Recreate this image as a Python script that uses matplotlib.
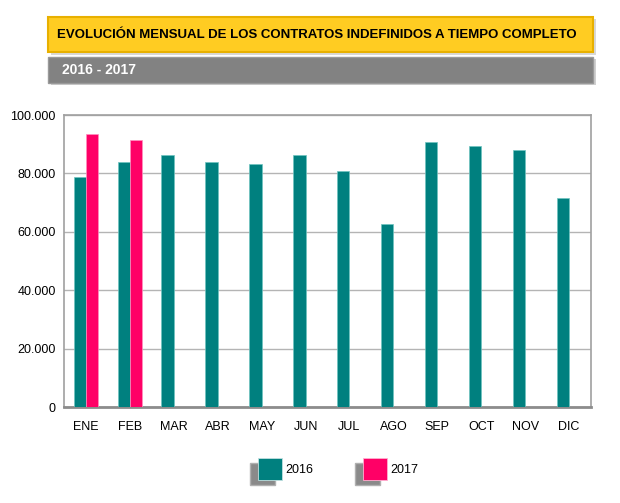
import matplotlib
matplotlib.use("Agg")
import matplotlib.pyplot as plt
import numpy as np
from matplotlib.patches import Rectangle

months = ["ENE", "FEB", "MAR", "ABR", "MAY", "JUN", "JUL", "AGO", "SEP", "OCT", "NOV", "DIC"]
v2016 = [78700, 83800, 86200, 84000, 83300, 86400, 80700, 62700, 90800, 89500, 88100, 71600]
v2017 = [93400, 91300]
yticks = [0, 20000, 40000, 60000, 80000, 100000]
ytick_labels = ["0", "20.000", "40.000", "60.000", "80.000", "100.000"]
title = "EVOLUCIÓN MENSUAL DE LOS CONTRATOS INDEFINIDOS A TIEMPO COMPLETO"
subtitle = "2016 - 2017"
series_names = ["2016", "2017"]

TEAL = "#00807F"
PINK = "#FF0066"

plt.rcParams['font.family'] = ['Liberation Sans', 'DejaVu Sans']

W, H = 620, 503
fig = plt.figure(figsize=(W / 100, H / 100), dpi=100)

def fx(x):
    return x / W

def fy(y):
    return 1 - y / H

ax = fig.add_axes([fx(64), fy(407.3), 527 / W, 292.3 / H])
x = np.arange(len(months))
bw = 0.28
ax.bar(x - bw / 2, v2016, width=bw, color=TEAL, edgecolor="#6fc4c0", linewidth=0.5, zorder=3)
ax.bar(x[:len(v2017)] + bw / 2, v2017, width=bw, color=PINK, edgecolor="#ff8fbf", linewidth=0.5, zorder=3)
ax.set_xlim(-0.5, len(months) - 0.5)
ax.set_ylim(0, 100000)
ax.set_yticks(yticks)
ax.set_yticklabels(ytick_labels, fontsize=9)
ax.set_xticks(x)
ax.set_xticklabels(months, fontsize=9)
ax.tick_params(axis='both', length=0, pad=6)
ax.tick_params(axis='x', pad=10)
ax.yaxis.grid(True, color="#b4b4b4", linewidth=1.0, zorder=0)
for s in ["left", "right", "top"]:
    ax.spines[s].set_color("#a0a0a0")
    ax.spines[s].set_linewidth(1.2)
ax.spines["bottom"].set_color("#8c8c8c")
ax.spines["bottom"].set_linewidth(2.0)

# Title box (yellow)
fig.patches.append(Rectangle((fx(51), fy(55)), 545 / W, 36 / H, transform=fig.transFigure,
                             facecolor="#d8d8d8", edgecolor="none", zorder=0))
fig.patches.append(Rectangle((fx(48), fy(52)), 545 / W, 35 / H, transform=fig.transFigure,
                             facecolor="#FFCC22", edgecolor="#E8B000", linewidth=1.5, zorder=1))
fig.text(fx(57), fy(35), title, fontsize=9.5, fontweight='bold', color='black',
         ha='left', va='center')

# Subtitle box (gray)
fig.patches.append(Rectangle((fx(51), fy(85)), 545 / W, 26 / H, transform=fig.transFigure,
                             facecolor="#d0d0d0", edgecolor="none", zorder=0))
fig.patches.append(Rectangle((fx(48), fy(83)), 545 / W, 26 / H, transform=fig.transFigure,
                             facecolor="#828282", edgecolor="#9a9a9a", linewidth=1, zorder=1))
fig.text(fx(62), fy(70), subtitle, fontsize=10, fontweight='bold', color='white',
         ha='left', va='center')

# Legend
leg_items = [(258, TEAL, series_names[0]), (363, PINK, series_names[1])]
for lx, col, lab in leg_items:
    fig.patches.append(Rectangle((fx(lx - 8), fy(485)), 25 / W, 22 / H, transform=fig.transFigure,
                                 facecolor="#8a8a8a", edgecolor="#b0b0b0", linewidth=1, zorder=1))
    fig.patches.append(Rectangle((fx(lx), fy(480)), 24 / W, 22 / H, transform=fig.transFigure,
                                 facecolor=col, edgecolor="#c0e0e0" if col == TEAL else "#ffb0d0",
                                 linewidth=0.6, zorder=2))
    fig.text(fx(lx + 27), fy(470), lab, fontsize=9, color='black', ha='left', va='center')

fig.savefig("out.png", dpi=100, facecolor='white')
